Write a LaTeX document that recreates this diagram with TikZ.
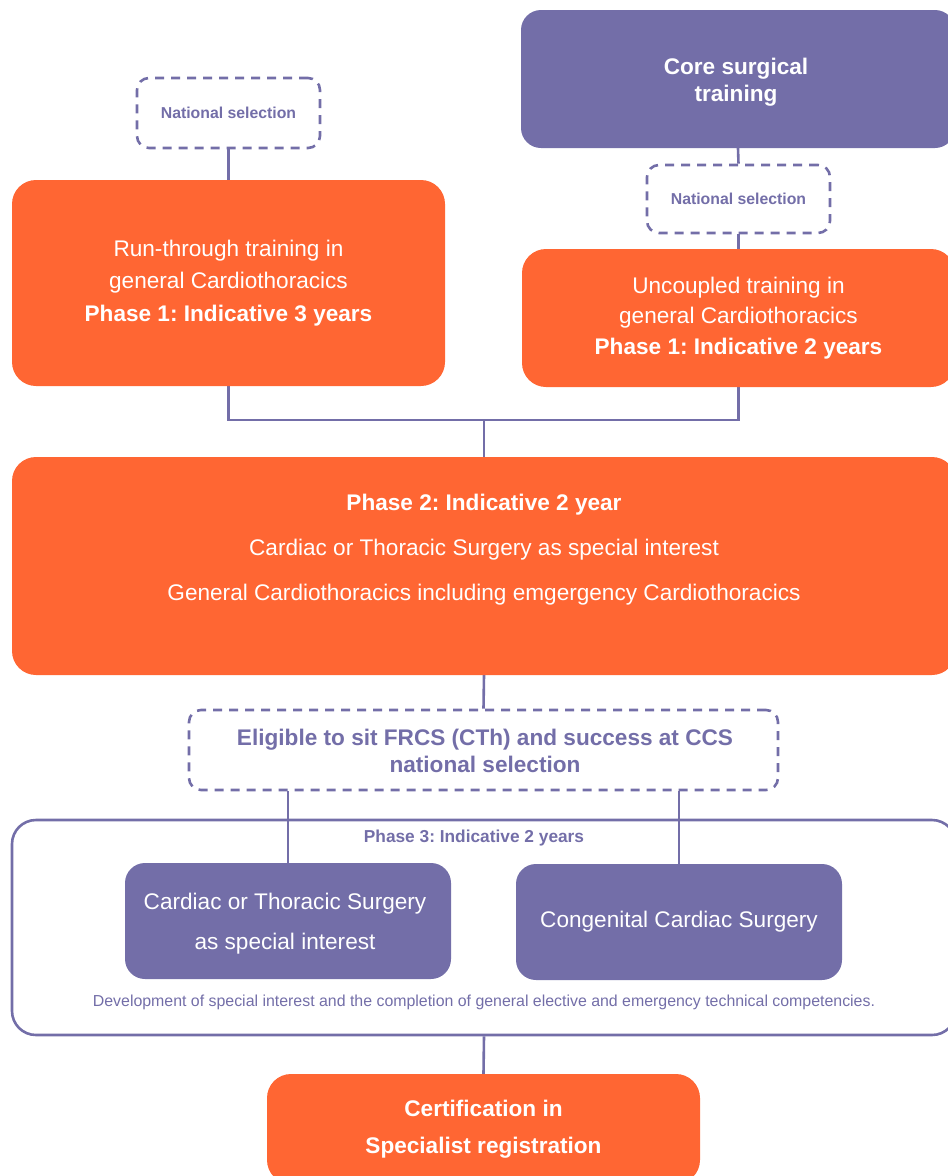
\documentclass[tikz,border=0pt]{standalone}
\usepackage{fontspec}
\setmainfont{Liberation Sans}
\usetikzlibrary{backgrounds}
\definecolor{org}{HTML}{FF6633}
\definecolor{pur}{HTML}{736EA8}
\frenchspacing
\begin{document}
\begin{tikzpicture}[x=1pt,y=-1pt,
 obox/.style={fill=org, rounded corners=24pt, text=white, align=center, inner sep=0pt},
 pbox/.style={fill=pur, rounded corners=20pt, text=white, align=center, inner sep=0pt},
 dbox/.style={draw=pur, line width=2.6pt, dash pattern=on 9pt off 7pt, rounded corners=12pt, text=pur, align=center, inner sep=0pt},
 conn/.style={draw=pur, line width=2.6pt},
 txt/.style={align=center, inner sep=0pt}]
\useasboundingbox (0,0) rectangle (948,1176);
\clip (0,0) rectangle (948,1176);
% top row
\node[dbox, minimum width=183pt, minimum height=70pt, font=\bfseries\fontsize{15.8}{18}\selectfont] (ns1) at (228.5,113) {National selection};
\node[pbox, minimum width=434pt, minimum height=138pt, font=\bfseries\fontsize{22.6}{27}\selectfont] (core) at (738,79) {};
\node[txt, text=white, font=\bfseries\fontsize{22.6}{27}\selectfont] (coret) at (736,82) {Core surgical\\training};
\node[dbox, minimum width=183pt, minimum height=68pt, font=\bfseries\fontsize{15.8}{18}\selectfont] (ns2) at (738.5,199) {National selection};
\node[obox, minimum width=433pt, minimum height=206pt, font=\fontsize{22.6}{32.5}\selectfont] (rt) at (228.5,283) {Run-through training in\\general Cardiothoracics\\\textbf{Phase 1: Indicative 3 years}};
\node[obox, minimum width=433pt, minimum height=138pt, font=\fontsize{22.6}{30.5}\selectfont] (uc) at (738.5,318) {Uncoupled training in\\general Cardiothoracics\\\textbf{Phase 1: Indicative 2 years}};
\coordinate (j) at (484,420);
% phase 2
\node[obox, minimum width=944pt, minimum height=218pt] (p2) at (484,566) {};
\node[txt, text=white, font=\fontsize{22.6}{45}\selectfont] (p2t) at (484,550) {\textbf{Phase 2: Indicative 2 year}\\Cardiac or Thoracic Surgery as special interest\\General Cardiothoracics including emgergency Cardiothoracics};
% eligible
\node[dbox, minimum width=589pt, minimum height=80pt, font=\bfseries\fontsize{22.6}{27}\selectfont] (el) at (483.5,750) {};
\node[txt, text=pur, font=\bfseries\fontsize{22.6}{27}\selectfont] (elt) at (485,751) {Eligible to sit FRCS (CTh) and success at CCS\\national selection};
% phase 3
\node[draw=pur, line width=2.6pt, rounded corners=24pt, minimum width=944pt, minimum height=215pt, inner sep=0pt] (p3) at (484,927.5) {};
\node[txt, text=pur, font=\bfseries\fontsize{17.3}{19}\selectfont] (p3t) at (474,838.5) {Phase 3: Indicative 2 years};
\node[pbox, minimum width=326pt, minimum height=116pt] (cs) at (288,921) {};
\node[txt, text=white, font=\fontsize{22.6}{40}\selectfont] (cst) at (285,924) {Cardiac or Thoracic Surgery\\as special interest};
\node[pbox, minimum width=326pt, minimum height=116pt, font=\fontsize{22.6}{40}\selectfont] (cc) at (679,922) {Congenital Cardiac Surgery};
\node[txt, text=pur, font=\fontsize{15.9}{17}\selectfont] (desc) at (484,1002) {Development of special interest and the completion of general elective and emergency technical competencies.};
% certification
\node[obox, minimum width=433pt, minimum height=110pt, font=\bfseries\fontsize{22.6}{37}\selectfont] (cert) at (483.5,1129) {Certification in\\Specialist registration};
% connectors
\begin{scope}[on background layer]
\draw[conn] (ns1.south) -- (rt.north);
\draw[conn] (core.south) -- (ns2.north);
\draw[conn] (ns2.south) -- (uc.north);
\draw[conn] (rt.south) |- (j) -| (uc.south);
\draw[conn] (j) -- (p2.north);
\draw[conn] (p2.south) -- (el.north);
\draw[conn] (cs.north |- el.south) -- (cs.north);
\draw[conn] (cc.north |- el.south) -- (cc.north);
\draw[conn] (p3.south) -- (cert.north);
\end{scope}
\end{tikzpicture}
\end{document}
